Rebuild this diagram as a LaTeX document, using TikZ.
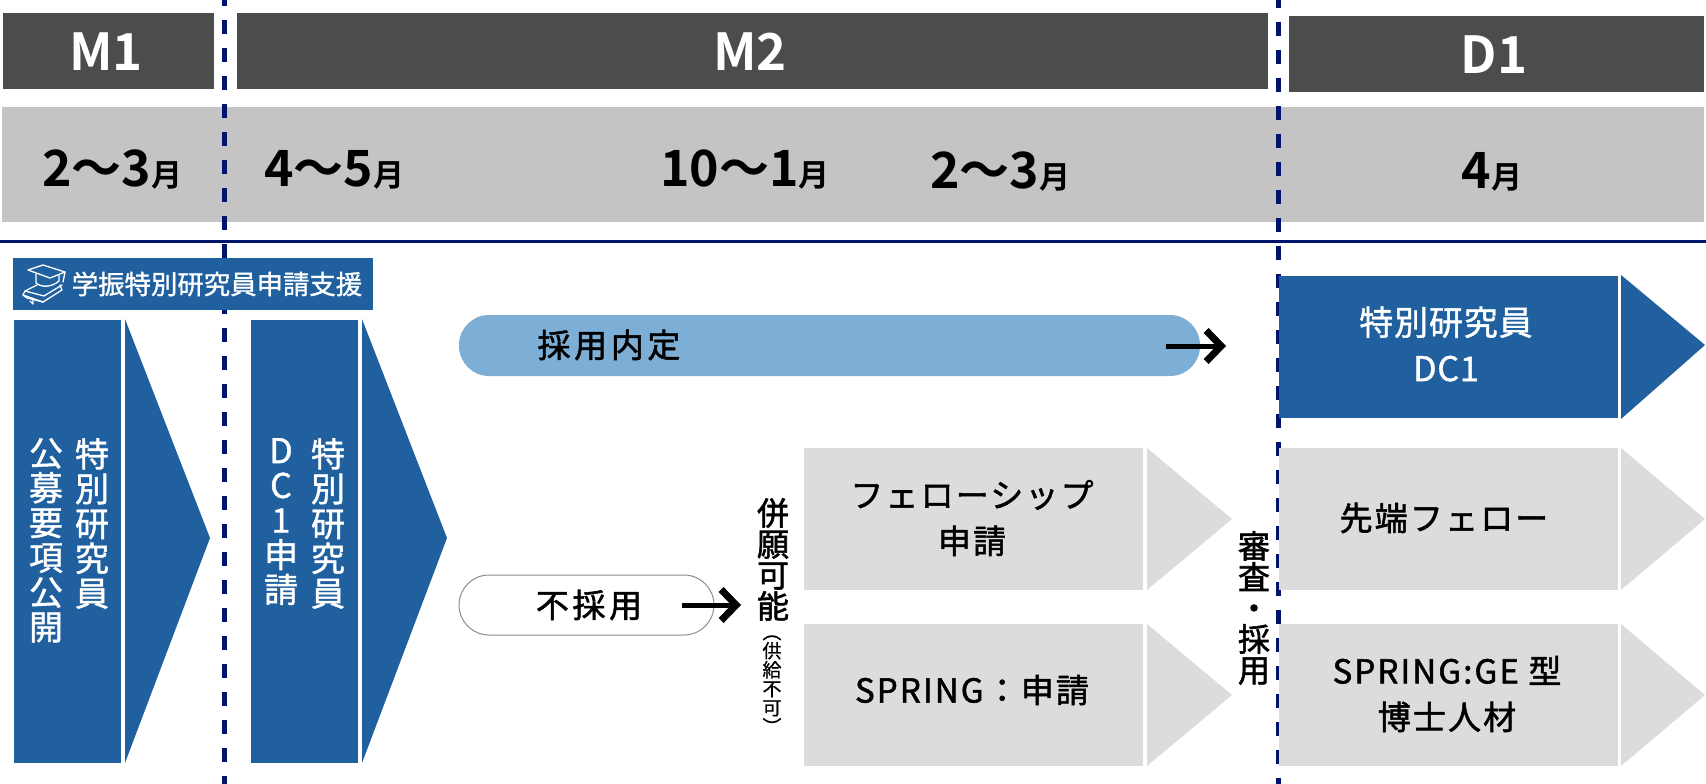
\documentclass[tikz,border=0pt]{standalone}
\usepackage{fontspec}
\usepackage{graphicx}
\usetikzlibrary{arrows.meta}
\setmainfont{Noto Sans CJK JP}
\newfontfamily\medf[FakeBold=1.8]{Noto Sans CJK JP}
\newfontfamily\medsp[FakeBold=1.6,LetterSpace=6.5]{Noto Sans CJK JP}
\newfontfamily\medspw[FakeBold=1.6,LetterSpace=11]{Noto Sans CJK JP}
\newfontfamily\wsp[LetterSpace=2.5,FakeBold=1.2]{Noto Sans CJK JP}
\newfontfamily\wpl[FakeBold=1.2]{Noto Sans CJK JP}
\newfontfamily\smf[FakeBold=0.8]{Noto Sans CJK JP}
\newfontfamily\boldf[BoldFont={*}]{Noto Sans CJK JP Bold}
\definecolor{hdr}{HTML}{4B4C4C}
\definecolor{band}{HTML}{C4C4C4}
\definecolor{navy}{HTML}{00146E}
\definecolor{blu}{HTML}{20609F}
\definecolor{lblu}{HTML}{7DAED6}
\definecolor{lgray}{HTML}{DCDCDC}
\newcommand{\fs}[2]{\fontsize{#1}{#2}\selectfont\lineskiplimit=-1000pt\relax}
\newcommand{\mon}{{\fontsize{31}{32}\selectfont 月}}
\tikzset{
 x=1pt,y=-1pt,
 hdrbar/.style={fill=hdr,draw=none},
 bandbar/.style={fill=band,draw=none},
 dashline/.style={navy,line width=5pt},
 bluebox/.style={fill=blu,draw=none},
 graybox/.style={fill=lgray,draw=none},
 hdrtext/.style={text=white,inner sep=0pt,font=\boldf\fs{51}{54}},
 datetext/.style={text=black,inner sep=0pt,font=\boldf\fs{50}{52}},
 lab/.style={text=black,inner sep=0pt,align=center,font=\medsp\fs{33}{46}},
 labw/.style={text=black,inner sep=0pt,align=center,font=\medspw\fs{33}{46}},
 wlab/.style={text=white,inner sep=0pt,align=center,font=\wsp\fs{34}{46}},
 vblue/.style={text=white,inner sep=0pt,align=center,anchor=north,font=\wpl\fs{34}{34.8}},
 vblack/.style={text=black,inner sep=0pt,align=center,anchor=north,font=\medf\fs{32}{31}},
 vsmall/.style={text=black,inner sep=0pt,align=center,anchor=north,font=\smf\fs{19}{19}},
 arr/.style={line width=5pt,-{Straight Barb[length=15pt,width=31pt,line width=7pt]}},
 iconline/.style={white,line width=1.3pt,line join=round,line cap=round},
}
\begin{document}
\begin{tikzpicture}
\useasboundingbox (0,0) rectangle (1706,784);
% header bars
\path[hdrbar] (3,13) rectangle (214,89);
\path[hdrbar] (237,13) rectangle (1268,89);
\path[hdrbar] (1289,16) rectangle (1704,92);
\node[hdrtext] (m1) at (106,52) {M1};
\node[hdrtext] (m2) at (750,52) {M2};
\node[hdrtext] (d1) at (1494,55) {D1};
% date band
\path[bandbar] (2,107) rectangle (1704,222);
\node[datetext] (t1) at (112,170) {2〜3\mon};
\node[datetext] (t2) at (334,170) {4〜5\mon};
\node[datetext] (t3) at (745,170) {10〜1\mon};
\node[datetext] (t4) at (1000,172) {2〜3\mon};
\node[datetext] (t5) at (1492,172) {4\mon};
% dashed period lines
\draw[dashline,dash pattern=on 14pt off 14pt,dash phase=8pt] (224,0) -- (224,784);
\draw[dashline,dash pattern=on 14pt off 14pt,dash phase=6pt] (1278,0) -- (1278,784);
\draw[navy,line width=3.6pt] (0,241.5) -- (1706,241.5);
% banner
\path[bluebox] (13,258) rectangle (373,310);
\node[text=white,inner sep=0pt,font=\wpl\fs{26.4}{30}] (bn) at (217,284) {学振特別研究員申請支援};
% icon
\draw[iconline] (28,270) -- (43,265) -- (65,272) -- (50,278) -- cycle;
\draw[iconline] (36,274) -- (36,283) .. controls (42,288) and (52,287) .. (59,281) -- (59,275);
\draw[iconline] (65,272) -- (63,282);
\draw[iconline] (37,285) -- (25,291) -- (23,295) -- (27,298) -- (43,302) -- (62,290) -- (60,285);
\draw[iconline] (25,291) -- (44,296) -- (62,285);
\draw[iconline] (23,295) -- (43,302);
\draw[iconline] (33,299) -- (33,304) -- (30,301);
% left boxes
\path[bluebox] (14,320) rectangle (121,763);
\path[bluebox] (125,319) -- (210,538) -- (125,763) -- cycle;
\path[bluebox] (251,320) rectangle (358,763);
\path[bluebox] (362,319) -- (447,538) -- (362,763) -- cycle;
\node[vblue] (v1) at (92,438) {特\\別\\研\\究\\員};
\node[vblue] (v2) at (46,438) {公\\募\\要\\項\\公\\開};
\node[vblue] (v3) at (328,438) {特\\別\\研\\究\\員};
\node[vblue] (v4) at (281,438) {D\\C\\1\\申\\請};
% pills
\path[fill=lblu,rounded corners=30pt] (459,315) rectangle (1200,376);
\node[labw] (p1) at (609,345) {採用内定};
\coordinate (a1s) at (1166,346);
\coordinate (a1e) at (1226,346);
\draw[arr] (a1s) -- (a1e);
\path[fill=white,draw=black!45,line width=1pt,rounded corners=30pt] (459,575) rectangle (714,635);
\node[labw] (p2) at (589,605) {不採用};
\coordinate (a2s) at (682,605);
\coordinate (a2e) at (741,605);
\draw[arr] (a2s) -- (a2e);
% vertical labels
\node[vblack] (va) at (773,498) {併\\願\\可\\能};
\node[vsmall] (vb) at (772,622) {\rotatebox[origin=c]{-90}{（}\\供\\給\\不\\可\\\rotatebox[origin=c]{-90}{）}};
\node[vblack] (vc) at (1254,531) {審\\査\\・\\採\\用};
% gray middle
\path[graybox] (804,448) rectangle (1143,590);
\path[graybox] (1147,448) -- (1232,519) -- (1147,590) -- cycle;
\path[graybox] (804,624) rectangle (1143,766);
\path[graybox] (1147,624) -- (1232,695) -- (1147,766) -- cycle;
\node[lab] (g1) at (972,518) {フェローシップ\\申請};
\node[lab] (g2) at (972,690) {SPRING：申請};
% right column
\path[bluebox] (1279,276) rectangle (1618,418);
\path[bluebox] (1621,275) -- (1705,345) -- (1621,419) -- cycle;
\path[graybox] (1279,448) rectangle (1618,590);
\path[graybox] (1621,448) -- (1705,519) -- (1621,590) -- cycle;
\path[graybox] (1279,624) rectangle (1618,766);
\path[graybox] (1621,624) -- (1705,695) -- (1621,766) -- cycle;
\node[wlab] (r1) at (1446,344) {特別研究員\\DC1};
\node[lab] (r2) at (1444,518) {先端フェロー};
\node[lab] (r3) at (1447,694) {SPRING:GE 型\\博士人材};
\end{tikzpicture}
\end{document}
